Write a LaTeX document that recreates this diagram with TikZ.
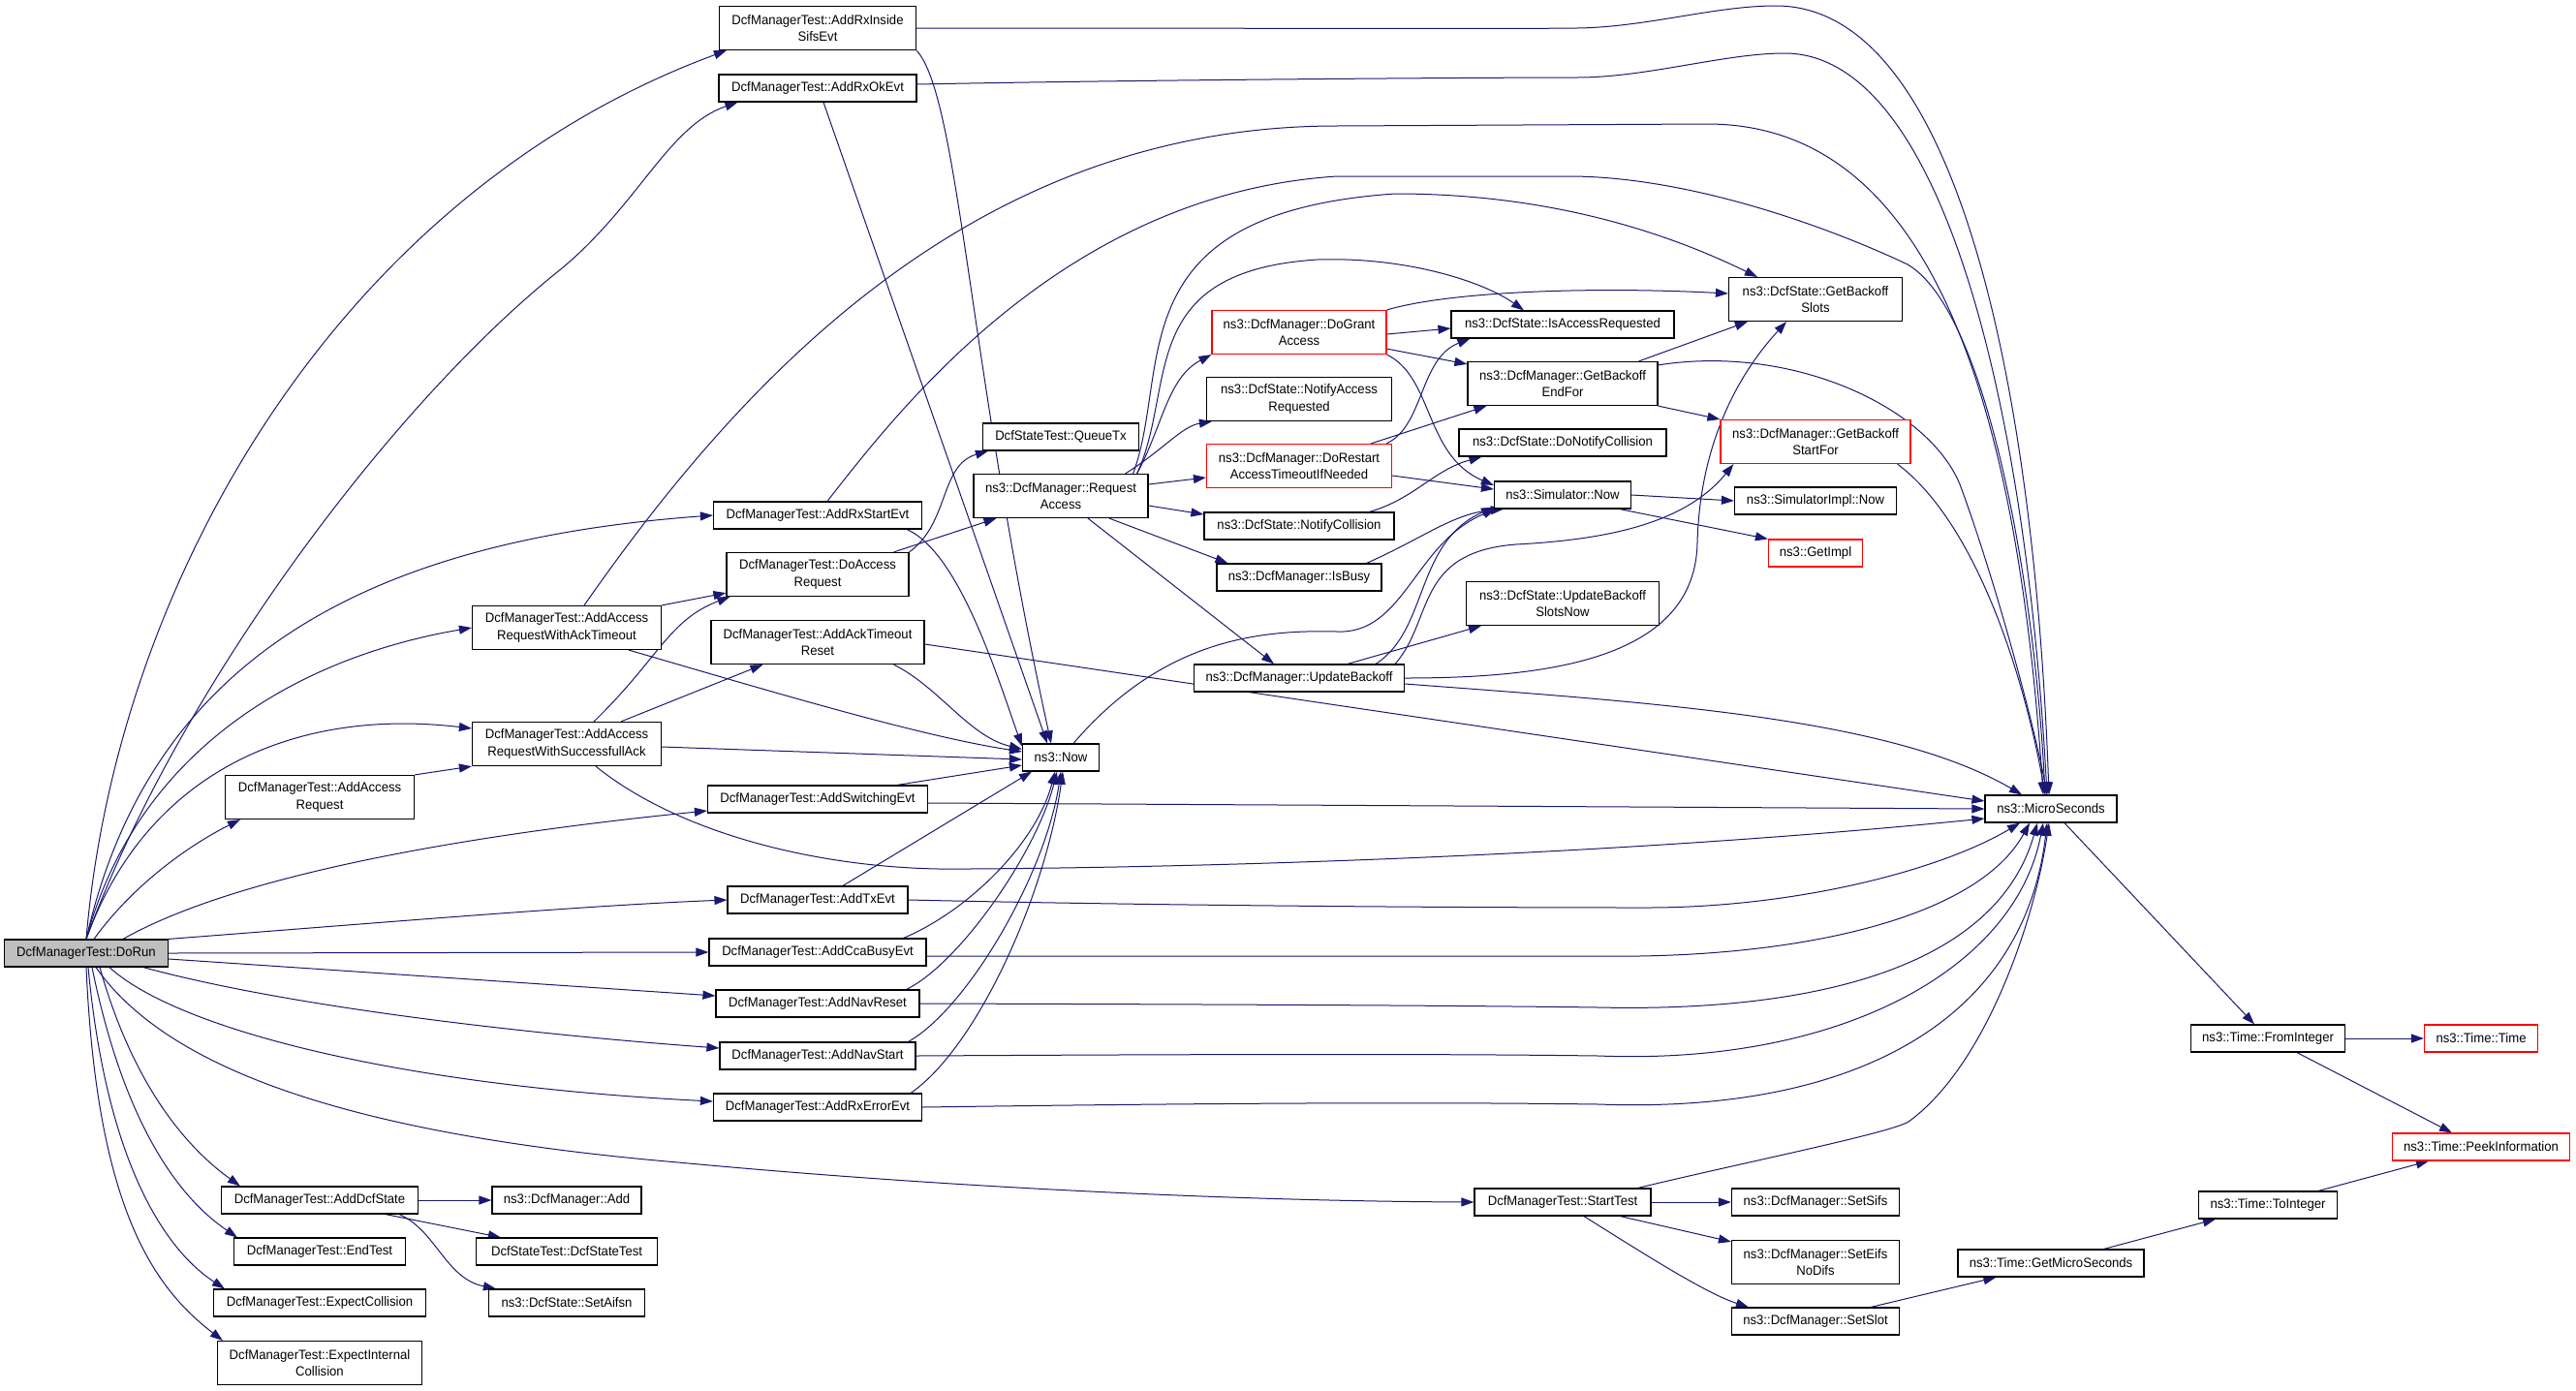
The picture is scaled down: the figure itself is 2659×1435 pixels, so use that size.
\documentclass[tikz,border=0pt]{standalone}
\usepackage{fontspec}
\setmainfont{Liberation Sans}[FakeStretch=0.95]
\usetikzlibrary{arrows.meta,backgrounds}
\definecolor{edgeblue}{HTML}{191970}
\definecolor{rootgray}{HTML}{BFBFBF}
\newcommand{\graphfont}{\fontsize{6.9}{8.7}\selectfont}
\tikzset{
  fn/.style={draw=black, fill=white, line width=0.6pt, inner sep=0pt, minimum height=14pt, align=center, font=\graphfont},
  fn2/.style={fn, minimum height=22.5pt},
  redfn/.style={draw=red},
  rootfn/.style={fill=rootgray},
  call/.style={draw=edgeblue, line width=0.5pt, -{Triangle[length=6.5pt,width=4.5pt]}}
}

\begin{document}
\begin{tikzpicture}[x=0.5pt,y=-0.5pt]
\useasboundingbox (0,0) rectangle (2659,1435);

% functions
\node[fn, rootfn, minimum width=84.5pt] (dorun) at (89,984) {DcfManagerTest::DoRun};
\node[fn2, minimum width=97.5pt] (addaccreq) at (330,823) {DcfManagerTest::AddAccess\\Request};
\node[fn, minimum width=101.5pt] (adddcfstate) at (330,1239) {DcfManagerTest::AddDcfState};
\node[fn, minimum width=88.5pt] (endtest) at (330,1292) {DcfManagerTest::EndTest};
\node[fn, minimum width=109.5pt] (expcoll) at (330,1345) {DcfManagerTest::ExpectCollision};
\node[fn2, minimum width=105.5pt] (expintcoll) at (330,1407) {DcfManagerTest::ExpectInternal\\Collision};
\node[fn2, minimum width=97.5pt] (acktimeout) at (585,648) {DcfManagerTest::AddAccess\\RequestWithAckTimeout};
\node[fn2, minimum width=97.5pt] (successack) at (585,768) {DcfManagerTest::AddAccess\\RequestWithSuccessfullAck};
\node[fn, minimum width=77pt] (dcfadd) at (585,1239) {ns3::DcfManager::Add};
\node[fn, minimum width=93.5pt] (dcfstatetest) at (585,1292) {DcfStateTest::DcfStateTest};
\node[fn, minimum width=80.5pt] (setaifsn) at (585,1345) {ns3::DcfState::SetAifsn};
\node[fn2, minimum width=101.5pt] (rxinside) at (844,29) {DcfManagerTest::AddRxInside\\SifsEvt};
\node[fn, minimum width=102pt] (rxok) at (844,91) {DcfManagerTest::AddRxOkEvt};
\node[fn, minimum width=107.5pt] (rxstart) at (844,532) {DcfManagerTest::AddRxStartEvt};
\node[fn2, minimum width=94pt] (doaccreq) at (844,593) {DcfManagerTest::DoAccess\\Request};
\node[fn2, minimum width=110pt] (acktimeoutreset) at (844,663) {DcfManagerTest::AddAckTimeout\\Reset};
\node[fn, minimum width=113.5pt] (switching) at (844,825) {DcfManagerTest::AddSwitchingEvt};
\node[fn, minimum width=93pt] (txevt) at (844,929) {DcfManagerTest::AddTxEvt};
\node[fn, minimum width=112pt] (ccabusy) at (844,983) {DcfManagerTest::AddCcaBusyEvt};
\node[fn, minimum width=105pt] (navreset) at (844,1036) {DcfManagerTest::AddNavReset};
\node[fn, minimum width=101pt] (navstart) at (844,1090) {DcfManagerTest::AddNavStart};
\node[fn, minimum width=107.5pt] (rxerror) at (844,1143) {DcfManagerTest::AddRxErrorEvt};
\node[fn, minimum width=80.5pt] (queuetx) at (1095,451) {DcfStateTest::QueueTx};
\node[fn2, minimum width=90pt] (reqaccess) at (1095,512) {ns3::DcfManager::Request\\Access};
\node[fn, minimum width=39.5pt] (now) at (1095,782) {ns3::Now};
\node[fn2, redfn, minimum width=90pt] (dogrant) at (1341,343) {ns3::DcfManager::DoGrant\\Access};
\node[fn2, minimum width=95.5pt] (notifyacc) at (1341,412) {ns3::DcfState::NotifyAccess\\Requested};
\node[fn2, redfn, minimum width=95.5pt] (dorestart) at (1341,481) {ns3::DcfManager::DoRestart\\AccessTimeoutIfNeeded};
\node[fn, minimum width=98pt] (notifycoll) at (1341,543) {ns3::DcfState::NotifyCollision};
\node[fn, minimum width=85pt] (isbusy) at (1341,596) {ns3::DcfManager::IsBusy};
\node[fn, minimum width=108.5pt] (updbackoff) at (1341,700) {ns3::DcfManager::UpdateBackoff};
\node[fn, minimum width=115pt] (isaccreq) at (1613,335) {ns3::DcfState::IsAccessRequested};
\node[fn2, minimum width=98pt] (endfor) at (1613,396) {ns3::DcfManager::GetBackoff\\EndFor};
\node[fn, minimum width=107pt] (donotify) at (1613,457) {ns3::DcfState::DoNotifyCollision};
\node[fn, minimum width=70.5pt] (simnow) at (1613,511) {ns3::Simulator::Now};
\node[fn2, minimum width=99.5pt] (slotsnow) at (1613,623) {ns3::DcfState::UpdateBackoff\\SlotsNow};
\node[fn, minimum width=91pt] (starttest) at (1613,1241) {DcfManagerTest::StartTest};
\node[fn2, minimum width=89.5pt] (getslots) at (1874,309) {ns3::DcfState::GetBackoff\\Slots};
\node[fn2, redfn, minimum width=98pt] (startfor) at (1874,456) {ns3::DcfManager::GetBackoff\\StartFor};
\node[fn, minimum width=83.5pt] (simimplnow) at (1874,517) {ns3::SimulatorImpl::Now};
\node[fn, redfn, minimum width=48.5pt] (getimpl) at (1874,571) {ns3::GetImpl};
\node[fn, minimum width=86.5pt] (setsifs) at (1874,1241) {ns3::DcfManager::SetSifs};
\node[fn2, minimum width=86.5pt] (seteifs) at (1874,1303) {ns3::DcfManager::SetEifs\\NoDifs};
\node[fn, minimum width=86.5pt] (setslot) at (1874,1364) {ns3::DcfManager::SetSlot};
\node[fn, minimum width=68pt] (micro) at (2117,835) {ns3::MicroSeconds};
\node[fn, minimum width=96pt] (getmicro) at (2117,1304) {ns3::Time::GetMicroSeconds};
\node[fn, minimum width=79.5pt] (frominteger) at (2341,1072) {ns3::Time::FromInteger};
\node[fn, minimum width=71.5pt] (tointeger) at (2341,1244) {ns3::Time::ToInteger};
\node[fn, redfn, minimum width=58.5pt] (timetime) at (2561,1072) {ns3::Time::Time};
\node[fn, redfn, minimum width=91.5pt] (peek) at (2561,1184) {ns3::Time::PeekInformation};

\begin{scope}[on background layer]
% calls of DoRun
\draw[call] (dorun.north) .. controls (120,600) and (350,200) .. ([xshift=4pt]rxinside.south west);
\draw[call] (dorun.north) .. controls (180,720) and (400,420) .. (580,277) .. controls (660,210) and (690,130) .. ([xshift=10pt]rxok.south west);
\draw[call] (dorun.north) .. controls (150,700) and (350,560) .. (rxstart.west);
\draw[call] (dorun.north) .. controls (140,780) and (300,680) .. (acktimeout.west);
\draw[call] (dorun.north) .. controls (150,800) and (300,730) .. ([yshift=8pt]successack.west);
\draw[call] ([xshift=4pt]dorun.north) .. controls (140,910) and (200,870) .. ([xshift=8pt]addaccreq.south west);
\draw[call] ([xshift=19pt]dorun.north) .. controls (250,900) and (500,860) .. ([yshift=-6pt]switching.west);
\draw[call] (dorun.north east) .. controls (400,952) and (600,935) .. (txevt.west);
\draw[call] (dorun.east) -- (ccabusy.west);
\draw[call] ([yshift=-3pt]dorun.east) -- ([yshift=4pt]navreset.west);
\draw[call] ([xshift=-13pt]dorun.south east) .. controls (300,1040) and (550,1068) .. ([yshift=4pt]navstart.west);
\draw[call] ([xshift=12pt]dorun.south) .. controls (180,1060) and (400,1120) .. ([yshift=3pt]rxerror.west);
\draw[call] ([xshift=5pt]dorun.south) .. controls (170,1100) and (350,1170) .. (700,1200) .. controls (1000,1228) and (1300,1240) .. (starttest.west);
\draw[call] ([xshift=7pt]dorun.south) .. controls (140,1130) and (200,1190) .. ([xshift=10pt]adddcfstate.north west);
\draw[call] ([xshift=3pt]dorun.south) .. controls (130,1170) and (190,1240) .. ([xshift=2pt]endtest.north west);
\draw[call] ([xshift=1pt]dorun.south) .. controls (110,1200) and (170,1290) .. ([xshift=6pt]expcoll.north west);
\draw[call] (dorun.south) .. controls (100,1250) and (160,1330) .. ([xshift=3pt]expintcoll.north west);

% test helpers
\draw[call] (rxinside.east) .. controls (1300,29) and (1550,30) .. (1628,29) .. controls (1700,28) and (1770,6) .. (1833,6) .. controls (2020,6) and (2100,400) .. ([xshift=-1pt]micro.north);
\draw[call] (rxinside.south east) .. controls (990,100) and (1000,380) .. ([xshift=-5pt]now.north);
\draw[call] ([yshift=2pt]rxok.east) .. controls (1200,82) and (1550,80) .. (1628,80) .. controls (1700,80) and (1780,55) .. (1842,55) .. controls (2000,55) and (2090,400) .. ([xshift=-2pt]micro.north);
\draw[call] ([xshift=3pt]rxok.south) -- ([xshift=-7pt]now.north);
\draw[call] ([xshift=9pt]acktimeout.north) .. controls (760,400) and (1000,130) .. (1380,130) -- (1762,128) .. controls (1980,128) and (2080,380) .. ([xshift=-4pt]micro.north);
\draw[call] (acktimeout.north east) -- ([yshift=2pt]doaccreq.south west);
\draw[call] ([xshift=-17pt]acktimeout.south east) .. controls (800,715) and (950,760) .. ([yshift=3pt]now.west);
\draw[call] ([xshift=14pt]successack.north) .. controls (680,680) and (690,640) .. ([xshift=2pt]doaccreq.south west);
\draw[call] ([xshift=28pt]successack.north) -- ([xshift=27pt]acktimeoutreset.south west);
\draw[call] ([yshift=-1.5pt]successack.east) -- ([yshift=-1pt]now.west);
\draw[call] ([xshift=15pt]successack.south) .. controls (700,860) and (850,900) .. (1000,897) .. controls (1300,895) and (1700,880) .. ([yshift=-5pt]micro.west);
\draw[call] (addaccreq.north east) -- (successack.south west);
\draw[call] ([xshift=5pt]rxstart.north) .. controls (930,420) and (1100,200) .. (1380,182) -- (1619,182) .. controls (1750,182) and (1900,240) .. (1969,273) .. controls (2050,320) and (2100,600) .. ([xshift=-3pt]micro.north);
\draw[call] ([xshift=-8pt]rxstart.south east) .. controls (990,570) and (1030,700) .. ([yshift=-1.5pt]now.north west);
\draw[call] ([xshift=-8pt]doaccreq.north east) -- ([xshift=12pt]reqaccess.south west);
\draw[call] (doaccreq.north east) .. controls (980,540) and (970,480) .. ([xshift=3pt]queuetx.south west);
\draw[call] ([xshift=-16pt]acktimeoutreset.south east) .. controls (970,710) and (1000,760) .. ([yshift=-3pt]now.north west);
\draw[call] ([yshift=-1pt]acktimeoutreset.east) -- ([yshift=4pt]micro.west);
\draw[call] ([xshift=-16pt]switching.north east) -- ([yshift=-4pt]now.west);
\draw[call] ([yshift=-2pt]switching.east) -- (micro.west);
\draw[call] ([xshift=13pt]txevt.north) -- ([xshift=-15pt]now.south);
\draw[call] (txevt.east) .. controls (1200,935) and (1500,937) .. (1700,937) .. controls (1850,937) and (2000,900) .. ([xshift=-16pt]micro.south);
\draw[call] ([xshift=-12pt]ccabusy.north east) .. controls (1000,940) and (1070,870) .. ([xshift=-3pt]now.south);
\draw[call] ([yshift=-2pt]ccabusy.east) .. controls (1300,987) and (1500,987) .. (1650,987) .. controls (1850,990) and (2040,950) .. ([xshift=-11pt]micro.south);
\draw[call] ([xshift=-7pt]navreset.north east) .. controls (990,995) and (1070,880) .. ([xshift=-2pt]now.south);
\draw[call] (navreset.east) .. controls (1300,1037) and (1500,1038) .. (1650,1040) .. controls (1870,1045) and (2060,1000) .. ([xshift=-7pt]micro.south);
\draw[call] ([xshift=-4pt]navstart.north east) .. controls (1000,1040) and (1080,900) .. (now.south);
\draw[call] (navstart.east) .. controls (1300,1088) and (1500,1088) .. (1650,1090) .. controls (1900,1100) and (2080,1000) .. ([xshift=-4pt]micro.south);
\draw[call] ([xshift=-6pt]rxerror.north east) .. controls (1010,1080) and (1080,920) .. ([xshift=1pt]now.south);
\draw[call] (rxerror.east) .. controls (1300,1138) and (1500,1138) .. (1650,1140) .. controls (1920,1150) and (2090,1050) .. ([xshift=-2pt]micro.south);
\draw[call] ([xshift=-7pt]starttest.north east) .. controls (1800,1200) and (1950,1170) .. (1970,1158) .. controls (2050,1100) and (2100,950) .. ([xshift=-1pt]micro.south);
\draw[call] (starttest.east) -- (setsifs.west);
\draw[call] ([xshift=-16pt]starttest.south east) -- ([yshift=-1pt]seteifs.north west);
\draw[call] ([xshift=11pt]starttest.south) .. controls (1690,1290) and (1760,1335) .. ([xshift=9pt]setslot.north west);
\draw[call] (adddcfstate.east) -- (dcfadd.west);
\draw[call] ([xshift=-17pt]adddcfstate.south east) -- ([xshift=13pt]dcfstatetest.north west);
\draw[call] ([xshift=-10pt]adddcfstate.south east) .. controls (450,1270) and (460,1320) .. ([xshift=4pt]setaifsn.north west);

% dcf manager
\draw[call] ([xshift=-6pt]reqaccess.north east) .. controls (1200,440) and (1205,390) .. (dogrant.south west);
\draw[call] ([xshift=-12pt]reqaccess.north east) .. controls (1200,465) and (1220,440) .. ([xshift=3pt]notifyacc.south west);
\draw[call] ([yshift=6pt]reqaccess.east) -- ([yshift=-6pt]dorestart.west);
\draw[call] ([yshift=-5pt]reqaccess.east) -- ([yshift=6pt]notifycoll.west);
\draw[call] ([xshift=25pt]reqaccess.south) -- ([xshift=6pt]isbusy.north west);
\draw[call] ([xshift=14pt]reqaccess.south) -- ([xshift=-13pt]updbackoff.north);
\draw[call] ([xshift=-6pt]reqaccess.north east) .. controls (1215,400) and (1170,280) .. (1360,268) .. controls (1450,265) and (1530,290) .. ([xshift=-20pt]isaccreq.north);
\draw[call] ([xshift=-8pt]reqaccess.north east) .. controls (1210,380) and (1150,220) .. (1440,200) .. controls (1600,200) and (1720,240) .. ([xshift=15pt]getslots.north west);
\draw[call] ([yshift=-1pt]dogrant.east) -- ([yshift=-2pt]isaccreq.west);
\draw[call] (dogrant.north east) .. controls (1500,300) and (1650,296) .. ([yshift=3pt]getslots.west);
\draw[call] ([yshift=3pt]dogrant.south east) -- ([yshift=-1.5pt]endfor.north west);
\draw[call] (dogrant.south east) .. controls (1480,390) and (1470,470) .. ([yshift=5pt]simnow.west);
\draw[call] ([xshift=-11pt]dorestart.north east) -- ([xshift=10pt]endfor.south west);
\draw[call] ([xshift=-3pt]dorestart.north east) .. controls (1470,440) and (1465,370) .. ([xshift=10pt]isaccreq.south west);
\draw[call] ([yshift=-5pt]dorestart.east) -- ([yshift=3pt]simnow.west);
\draw[call] ([xshift=-10pt]endfor.north east) -- ([xshift=10pt]getslots.south west);
\draw[call] (endfor.south east) -- (startfor.north west);
\draw[call] ([yshift=-2pt]endfor.north east) .. controls (1850,355) and (1990,420) .. (2023,500) .. controls (2060,600) and (2100,750) .. ([xshift=-2pt]micro.north);
\draw[call] ([xshift=-7pt]startfor.south east) .. controls (2040,540) and (2090,700) .. ([xshift=-3pt]micro.north);
\draw[call] ([xshift=-13pt]notifycoll.north east) .. controls (1460,515) and (1480,485) .. ([xshift=12pt]donotify.south west);
\draw[call] ([xshift=-8pt]isbusy.north east) .. controls (1470,555) and (1500,530) .. ([xshift=5pt]simnow.south west);
\draw[call] ([xshift=6.5pt]now.north) .. controls (1200,660) and (1300,650) .. (1380,652) .. controls (1450,655) and (1460,560) .. ([xshift=1pt]simnow.south west);
\draw[call] ([xshift=25pt]updbackoff.north) -- ([xshift=8pt]slotsnow.south west);
\draw[call] ([xshift=-15pt]updbackoff.north east) .. controls (1475,650) and (1460,560) .. ([yshift=1pt]simnow.south west);
\draw[call] ([xshift=-5pt]updbackoff.north east) .. controls (1480,640) and (1460,570) .. (1565,562) .. controls (1660,557) and (1740,540) .. ([xshift=7pt]startfor.south west);
\draw[call] (updbackoff.east) .. controls (1600,700) and (1750,680) .. (1752,560) .. controls (1755,450) and (1800,380) .. ([xshift=-15pt]getslots.south);
\draw[call] ([yshift=-3pt]updbackoff.east) .. controls (1700,725) and (1950,740) .. ([xshift=-15pt]micro.north);
\draw[call] (simnow.east) -- (simimplnow.west);
\draw[call] ([xshift=-6pt]simnow.south east) -- (getimpl.north west);

% time
\draw[call] ([xshift=7pt]micro.south) -- ([xshift=-7pt]frominteger.north);
\draw[call] (frominteger.east) -- (timetime.west);
\draw[call] ([xshift=15pt]frominteger.south) -- ([xshift=-15pt]peek.north);
\draw[call] ([xshift=-10pt]tointeger.north east) -- ([xshift=19pt]peek.south west);
\draw[call] ([xshift=-21pt]getmicro.north east) -- ([xshift=9pt]tointeger.south west);
\draw[call] ([xshift=-15pt]setslot.north east) -- ([xshift=20pt]getmicro.south west);
\end{scope}
\end{tikzpicture}
\end{document}
